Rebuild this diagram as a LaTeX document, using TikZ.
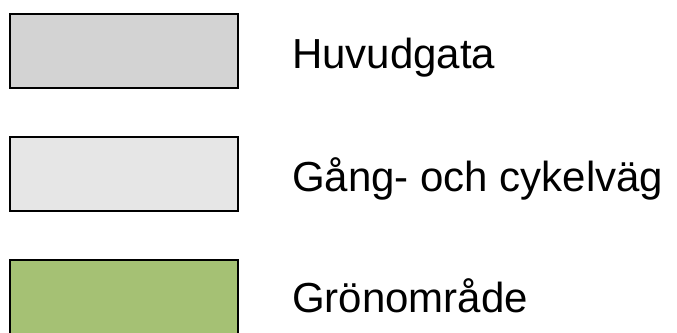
\documentclass[tikz,border=0pt]{standalone}
\usepackage{fontspec}
\setmainfont{Liberation Sans}
\definecolor{mainroad}{RGB}{211,211,211}
\definecolor{cycleway}{RGB}{230,230,230}
\definecolor{greenarea}{RGB}{165,193,116}
\tikzset{
  legendbox/.style={draw=black, line width=2pt, minimum width=228pt, minimum height=74pt, inner sep=0pt},
  legendtext/.style={anchor=base west, inner sep=0pt, font=\fontsize{42pt}{48pt}\selectfont, text=black}
}
\begin{document}
\begin{tikzpicture}[x=1pt,y=1pt]
\useasboundingbox (0,0) rectangle (677,332);
\node[legendbox, fill=mainroad] (b1) at (124,281) {};
\node[legendbox, fill=cycleway] (b2) at (124,158) {};
\node[legendbox, fill=greenarea] (b3) at (124,34.7) {};
\node[legendtext] (t1) at (292,263) {Huvudgata};
\node[legendtext] (t2) at (292,140.5) {Gång- och cykelväg};
\node[legendtext] (t3) at (292,19.3) {Grönområde};
\end{tikzpicture}
\end{document}
